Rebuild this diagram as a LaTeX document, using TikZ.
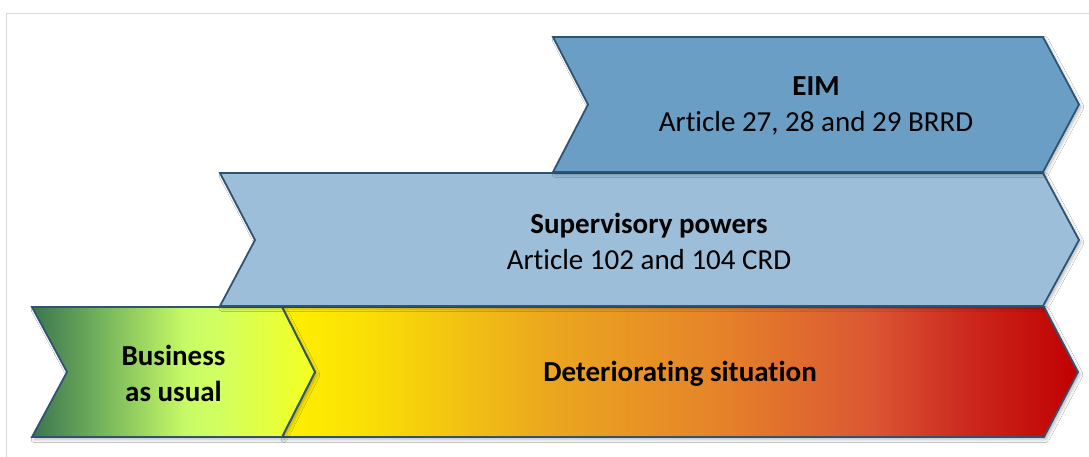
\documentclass[tikz,border=0pt]{standalone}
\usepackage{fontspec}
\setmainfont{Carlito}[Ligatures={NoCommon}]
\usetikzlibrary{shadows.blur}
\definecolor{edgeblue}{RGB}{47,84,115}
\definecolor{eimfill}{RGB}{106,158,197}
\definecolor{supfill}{RGB}{157,190,216}
\definecolor{framegray}{RGB}{216,216,216}
\pgfdeclarehorizontalshading{bau}{100bp}{rgb(0bp)=(0.23,0.46,0.31); rgb(25bp)=(0.23,0.46,0.31); rgb(37bp)=(0.45,0.70,0.36); rgb(52bp)=(0.78,0.98,0.40); rgb(58bp)=(0.82,1,0.38); rgb(75bp)=(0.96,1,0.12); rgb(100bp)=(0.96,1,0.12)}
\pgfdeclarehorizontalshading{deter}{100bp}{rgb(0bp)=(1,0.94,0); rgb(25bp)=(1,0.94,0); rgb(30bp)=(0.98,0.88,0.02); rgb(42bp)=(0.92,0.65,0.12); rgb(52bp)=(0.90,0.52,0.16); rgb(62bp)=(0.86,0.34,0.20); rgb(68bp)=(0.80,0.16,0.12); rgb(75bp)=(0.75,0,0); rgb(100bp)=(0.75,0,0)}
\tikzset{
  chev/.style={draw=edgeblue, line width=1.8pt, line join=miter,
    blur shadow={shadow xshift=2pt, shadow yshift=-2.5pt, shadow blur steps=6, shadow blur radius=3pt, shadow opacity=28}},
  lbl/.style={align=center, font=\fontsize{29}{36}\selectfont, text=black, inner sep=0pt}
}
\begin{document}
\begin{tikzpicture}[x=1pt,y=-1pt]
\useasboundingbox (0,0) rectangle (1089,456);
\fill[white] (0,0) rectangle (1089,456);
\draw[framegray, line width=1pt] (6,470) -- (6,13) -- (1100,13);
% bottom row
\path[chev, shading=deter] (282,307) -- (1044,307) -- (1078,372) -- (1044,437) -- (282,437) -- (315,372) -- cycle;
\path[chev, shading=bau] (32,307) -- (282,307) -- (315,372) -- (282,437) -- (32,437) -- (67,372) -- cycle;
% supervisory
\path[chev, fill=supfill] (220,173) -- (1043,173) -- (1079,240) -- (1043,306) -- (220,306) -- (255,240) -- cycle;
% EIM
\path[chev, fill=eimfill] (553,37) -- (1043,37) -- (1079,104.5) -- (1043,172) -- (553,172) -- (588,104.5) -- cycle;
% labels
\node[lbl] (eim) at (816,106) {\textbf{EIM}\\Article 27, 28 and 29 BRRD};
\node[lbl] (sup) at (649,241) {\textbf{Supervisory powers}\\Article 102 and 104 CRD};
\node[lbl] (bau) at (173.5,373) {\textbf{Business}\\\textbf{as usual}};
\node[lbl, font=\fontsize{29}{36}\bfseries] (det) at (680,374) {Deteriorating situation};
\end{tikzpicture}
\end{document}
